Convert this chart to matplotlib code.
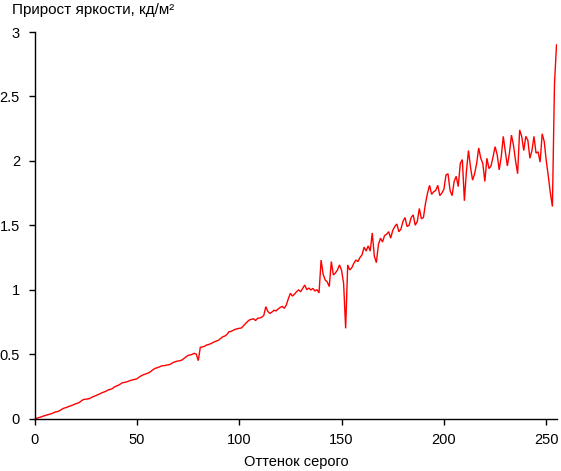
"""
Прирост яркости по оттенкам серого.
"""
import numpy as np
import matplotlib
matplotlib.use("Agg")
import matplotlib.pyplot as plt

plt.rcParams['font.family'] = ['Liberation Sans', 'DejaVu Sans']

# gray levels 0..255
gray_levels = list(range(256))

# luminance increment per gray step, cd/m2
step_gain = [
    0.000, 0.002, 0.006, 0.011, 0.017, 0.022, 0.027, 0.032, 0.036, 0.042,
    0.050, 0.053, 0.058, 0.068, 0.078, 0.083, 0.088, 0.095, 0.100, 0.106,
    0.114, 0.118, 0.126, 0.138, 0.148, 0.150, 0.152, 0.155, 0.165, 0.172,
    0.178, 0.185, 0.192, 0.200, 0.206, 0.212, 0.222, 0.226, 0.232, 0.245,
    0.252, 0.258, 0.268, 0.278, 0.280, 0.284, 0.290, 0.296, 0.300, 0.304,
    0.308, 0.320, 0.330, 0.338, 0.344, 0.350, 0.356, 0.368, 0.380, 0.390,
    0.394, 0.400, 0.408, 0.410, 0.412, 0.416, 0.418, 0.428, 0.436, 0.442,
    0.446, 0.448, 0.454, 0.466, 0.478, 0.490, 0.493, 0.498, 0.506, 0.500,
    0.449, 0.552, 0.556, 0.560, 0.570, 0.574, 0.580, 0.588, 0.596, 0.602,
    0.609, 0.622, 0.635, 0.640, 0.652, 0.674, 0.676, 0.684, 0.692, 0.696,
    0.700, 0.702, 0.718, 0.735, 0.752, 0.765, 0.770, 0.774, 0.760, 0.778,
    0.780, 0.786, 0.800, 0.868, 0.830, 0.816, 0.826, 0.840, 0.835, 0.850,
    0.862, 0.870, 0.855, 0.881, 0.930, 0.972, 0.950, 0.965, 0.984, 0.998,
    0.984, 1.010, 1.036, 1.000, 1.012, 0.998, 1.010, 0.990, 1.000, 0.975,
    1.230, 1.120, 1.075, 1.060, 1.024, 1.218, 1.114, 1.130, 1.153, 1.192,
    1.150, 1.049, 0.700, 1.192, 1.153, 1.170, 1.205, 1.230, 1.218, 1.250,
    1.270, 1.330, 1.300, 1.340, 1.300, 1.440, 1.260, 1.210, 1.350, 1.400,
    1.370, 1.420, 1.430, 1.450, 1.400, 1.460, 1.490, 1.510, 1.450, 1.470,
    1.530, 1.560, 1.490, 1.500, 1.560, 1.580, 1.500, 1.530, 1.630, 1.550,
    1.560, 1.670, 1.750, 1.810, 1.740, 1.760, 1.770, 1.810, 1.730, 1.750,
    1.780, 1.890, 1.900, 1.770, 1.730, 1.840, 1.880, 1.800, 1.980, 2.010,
    1.690, 1.920, 2.080, 1.950, 1.850, 1.900, 1.980, 2.100, 2.020, 1.980,
    1.840, 2.020, 1.940, 1.960, 2.030, 2.110, 2.050, 1.930, 2.030, 2.190,
    2.070, 1.960, 2.060, 2.200, 2.120, 2.000, 1.900, 2.240, 2.190, 2.080,
    2.190, 2.160, 2.020, 2.080, 2.190, 2.060, 2.070, 1.990, 2.210, 2.150,
    2.000, 1.880, 1.750, 1.645, 2.590, 2.900,
]

x_ticks = [0, 50, 100, 150, 200, 250]
y_ticks = [0, 0.5, 1, 1.5, 2, 2.5, 3]
y_tick_labels = ['0', '0.5', '1', '1.5', '2', '2.5', '3']

W, H = 561, 471
fig = plt.figure(figsize=(W / 100, H / 100), dpi=100)
ax = fig.add_axes([34.5 / W, (H - 418.5) / H, (556.5 - 34.5) / W, (418.5 - 32) / H])

ax.plot(gray_levels, step_gain, color='#ff0000', linewidth=1.0, solid_joinstyle='miter')

ax.set_xlim(0, 255)
ax.set_ylim(0, 3)
ax.set_xticks(x_ticks)
ax.set_yticks(y_ticks)
ax.set_yticklabels(y_tick_labels)

for side in ('top', 'right'):
    ax.spines[side].set_visible(False)
for side in ('left', 'bottom'):
    ax.spines[side].set_linewidth(1.0)
    ax.spines[side].set_color('black')

ax.tick_params(axis='both', direction='out', length=4, width=1.0,
               labelsize=10.5, pad=6.5, colors='black')

fig.text(12 / W, 1 - 3 / H, 'Прирост яркости, кд/м²', fontsize=11,
         ha='left', va='top')
fig.text(296 / W, 1 - 462 / H, 'Оттенок серого', fontsize=10.5,
         ha='center', va='center')

fig.savefig('out.png', dpi=100, facecolor='white')
